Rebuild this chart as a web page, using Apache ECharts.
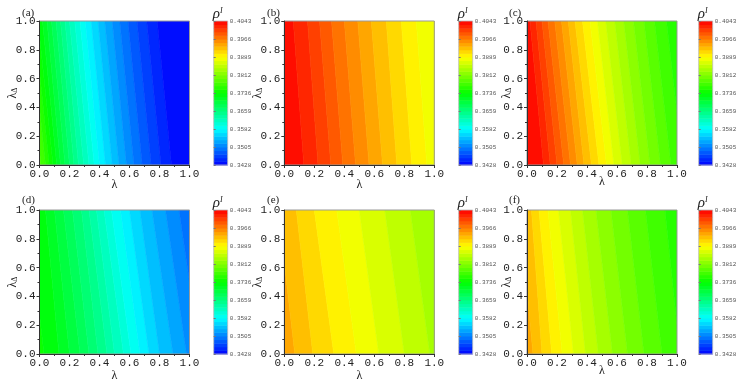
<!DOCTYPE html>
<html><head><meta charset="utf-8">
<script src="https://cdn.jsdelivr.net/npm/echarts@6/dist/echarts.min.js"></script>
<style>html,body{margin:0;padding:0;background:#fff}#c{width:744px;height:387px}</style>
</head><body><div id="c"></div>
<script>
// ---------------- data ----------------
const xTickLabels = ['0.0', '0.2', '0.4', '0.6', '0.8', '1.0'];
const yTickLabels = ['0.0', '0.2', '0.4', '0.6', '0.8', '1.0'];
const cbTickLabels = ['0.3428', '0.3505', '0.3582', '0.3659', '0.3736', '0.3812', '0.3889', '0.3966', '0.4043'];
const levelCount = 40;            // contour levels between 0.3428 and 0.4043
const panelLabels = ['(a)', '(b)', '(c)', '(d)', '(e)', '(f)'];

// contour lines: level index, λ position at λΔ=0 (bottom) and at λΔ=1 (top)
const levelsA = [23, 22, 21, 20, 19, 18, 17, 16, 15, 14, 13, 12, 11, 10, 9, 8, 7, 6, 5, 4, 3, 2, 1];
const bottomA = [0.01, 0.04, 0.065, 0.09, 0.115, 0.14, 0.17, 0.20, 0.23, 0.26, 0.295, 0.33, 0.365, 0.40, 0.44, 0.485, 0.53, 0.58, 0.63, 0.685, 0.745, 0.81, 0.88];
const topA = [-0.09, -0.06, -0.035, -0.01, 0.02, 0.05, 0.08, 0.11, 0.14, 0.17, 0.20, 0.235, 0.27, 0.305, 0.345, 0.39, 0.435, 0.485, 0.535, 0.59, 0.65, 0.715, 0.785];

const levelsB = [39, 38, 37, 36, 35, 34, 33, 32, 31, 30];
const bottomB = [0.13, 0.225, 0.31, 0.39, 0.475, 0.565, 0.655, 0.75, 0.85, 0.95];
const topB = [0.06, 0.155, 0.235, 0.315, 0.40, 0.49, 0.58, 0.68, 0.78, 0.88];

const levelsC = [39, 38, 37, 36, 35, 34, 33, 32, 31, 30, 29, 28, 27, 26, 25, 24, 23, 22];
const bottomC = [0.11, 0.155, 0.20, 0.245, 0.29, 0.335, 0.38, 0.43, 0.48, 0.53, 0.58, 0.635, 0.695, 0.755, 0.82, 0.89, 0.96, 1.04];
const topC = [0.02, 0.06, 0.10, 0.14, 0.185, 0.23, 0.275, 0.32, 0.37, 0.42, 0.47, 0.525, 0.585, 0.645, 0.71, 0.78, 0.85, 0.93];

const levelsD = [20, 19, 18, 17, 16, 15, 14, 13, 12, 11, 10, 9, 8, 7, 6, 5];
const bottomD = [0.03, 0.13, 0.20, 0.27, 0.33, 0.39, 0.45, 0.50, 0.56, 0.61, 0.67, 0.73, 0.80, 0.89, 0.98, 1.07];
const topD = [-0.08, 0.04, 0.10, 0.16, 0.22, 0.28, 0.33, 0.38, 0.43, 0.48, 0.54, 0.60, 0.67, 0.75, 0.84, 0.93];

const levelsE = [33, 32, 31, 30, 29, 28, 27];
const bottomE = [0.07, 0.19, 0.33, 0.48, 0.63, 0.80, 0.97];
const topE = [-0.04, 0.08, 0.20, 0.35, 0.50, 0.67, 0.84];

const levelsF = [33, 32, 31, 30, 29, 28, 27, 26, 25, 24, 23, 22];
const bottomF = [0.04, 0.10, 0.165, 0.235, 0.31, 0.39, 0.475, 0.57, 0.67, 0.78, 0.90, 1.02];
const topF = [-0.05, 0.03, 0.08, 0.14, 0.21, 0.29, 0.37, 0.46, 0.56, 0.67, 0.79, 0.92];

const panelData = [
  [levelsA, bottomA, topA], [levelsB, bottomB, topB], [levelsC, bottomC, topC],
  [levelsD, bottomD, topD], [levelsE, bottomE, topE], [levelsF, bottomF, topF]
];

// ---------------- style ----------------
const colLeft = [39.5, 284.3, 527];
const cbLeft = [213.7, 458.7, 698.7];
const rowTop = [21, 210];
const plotW = 150, plotH = 144, cbW = 14;
const yNameGap = [21, 20, 14];
const xNameGap = [[14, 14, 11], [16, 16, 11]];
const labelX = [22, 267, 509];
const labelY = [13.5, 201];
const rainbowStops = [[0, [0, 0, 255]], [0.25, [0, 255, 255]], [0.5, [0, 255, 0]], [0.75, [255, 255, 0]], [1, [255, 0, 0]]];
const monoFont = 'Liberation Mono';
const serifFont = 'Liberation Serif';

function rainbow(t) {
  t = Math.max(0, Math.min(1, t));
  for (let i = 0; i < rainbowStops.length - 1; i++) {
    const [t0, c0] = rainbowStops[i], [t1, c1] = rainbowStops[i + 1];
    if (t <= t1) {
      const f = (t - t0) / (t1 - t0);
      const c = c0.map((v, j) => Math.round(v + (c1[j] - v) * f));
      return 'rgb(' + c.join(',') + ')';
    }
  }
  return 'rgb(255,0,0)';
}

function bandsFrom(levels, bottom, top) {
  const out = [];
  const n = levels.length;
  out.push([-1, bottom[0], -1, top[0], levels[0]]);
  for (let i = 0; i < n - 1; i++) out.push([bottom[i], bottom[i + 1], top[i], top[i + 1], levels[i + 1]]);
  out.push([bottom[n - 1], 2, top[n - 1], 2, levels[n - 1] - 1]);
  return out;
}

const grids = [], xAxes = [], yAxes = [], series = [], graphics = [];
const tickStyle = { fontFamily: monoFont, fontSize: 11, color: '#222' };

for (let p = 0; p < 6; p++) {
  const row = Math.floor(p / 3), col = p % 3;
  const gi = grids.length;
  grids.push({ left: colLeft[col], top: rowTop[row], width: plotW, height: plotH, show: true,
    borderColor: '#999', borderWidth: 1, backgroundColor: 'transparent', z: 4, outerBoundsMode: 'none' });
  const xi = xAxes.length;
  xAxes.push({
    gridIndex: gi, type: 'value', min: 0, max: 1, interval: 0.2, z: 5,
    name: 'λ', nameLocation: 'middle', nameGap: xNameGap[row][col], nameMoveOverlap: false,
    nameTextStyle: { fontFamily: serifFont, fontSize: 12, color: '#222' },
    axisLine: { lineStyle: { color: '#333', width: 1 } },
    axisTick: { inside: false, length: 3, lineStyle: { color: '#333' } },
    minorTick: { show: true, splitNumber: 2, length: 2, lineStyle: { color: '#333' } },
    splitLine: { show: false },
    axisLabel: Object.assign({ margin: 4, showMinLabel: true, showMaxLabel: true,
      formatter: (v) => xTickLabels[Math.round(v / 0.2)] }, tickStyle)
  });
  const yi = yAxes.length;
  yAxes.push({
    gridIndex: gi, type: 'value', min: 0, max: 1, interval: 0.2, z: 5,
    name: '{l|λ}{s|Δ}', nameLocation: 'middle', nameGap: yNameGap[col], nameRotate: 90, nameMoveOverlap: false,
    nameTextStyle: { rich: {
      l: { fontFamily: serifFont, fontSize: 12, color: '#222' },
      s: { fontFamily: serifFont, fontSize: 8, color: '#222', verticalAlign: 'bottom' } } },
    axisLine: { lineStyle: { color: '#333', width: 1 } },
    axisTick: { inside: false, length: 3, lineStyle: { color: '#333' } },
    minorTick: { show: true, splitNumber: 2, length: 2, lineStyle: { color: '#333' } },
    splitLine: { show: false },
    axisLabel: Object.assign({ margin: 4, showMinLabel: true, showMaxLabel: true,
      formatter: (v) => yTickLabels[Math.round(v / 0.2)] }, tickStyle)
  });
  const [lv, bt, tp] = panelData[p];
  series.push({
    type: 'custom', xAxisIndex: xi, yAxisIndex: yi, clip: true, z: 1, silent: true,
    data: bandsFrom(lv, bt, tp),
    encode: { x: [0, 1], y: 4 },
    renderItem: function (params, api) {
      const bl = api.value(0), br = api.value(1), tl = api.value(2), tr = api.value(3), b = api.value(4);
      const pts = [api.coord([bl, 0]), api.coord([br, 0]), api.coord([tr, 1]), api.coord([tl, 1])];
      const c = rainbow((b + 0.5) / levelCount);
      return { type: 'polygon', shape: { points: pts }, style: { fill: c, stroke: c, lineWidth: 0.6 } };
    }
  });

  const ci = grids.length;
  grids.push({ left: cbLeft[col], top: rowTop[row], width: cbW, height: plotH, show: true,
    borderColor: '#bbb', borderWidth: 0.8, backgroundColor: 'transparent', z: 4, outerBoundsMode: 'none' });
  const cxi = xAxes.length;
  xAxes.push({ gridIndex: ci, type: 'value', min: 0, max: 1, show: false });
  const cyi = yAxes.length;
  yAxes.push({
    gridIndex: ci, type: 'value', min: 0, max: levelCount, interval: 5, position: 'right', z: 5,
    axisLine: { show: false },
    axisTick: { show: true, inside: false, length: 2, lineStyle: { color: '#777' } },
    splitLine: { show: false },
    axisLabel: { margin: 2, fontFamily: monoFont, fontSize: 6, color: '#555', showMinLabel: true, showMaxLabel: true,
      formatter: (v) => cbTickLabels[Math.round(v / 5)] }
  });
  const cbData = [];
  for (let k = 0; k < levelCount; k++) cbData.push([0, k]);
  series.push({
    type: 'custom', xAxisIndex: cxi, yAxisIndex: cyi, z: 1, silent: true,
    data: cbData, encode: { x: 0, y: 1 },
    renderItem: function (params, api) {
      const k = api.value(1);
      const p0 = api.coord([0, k + 1]), p1 = api.coord([1, k]);
      const c = rainbow((k + 0.5) / levelCount);
      return { type: 'rect', shape: { x: p0[0], y: p0[1], width: p1[0] - p0[0], height: p1[1] - p0[1] + 0.5 },
        style: { fill: c } };
    }
  });

  graphics.push({ type: 'text', left: labelX[col], top: labelY[row] - 6,
    style: { text: panelLabels[p], font: '11px "' + serifFont + '"', fill: '#222' } });
  graphics.push({ type: 'text', left: cbLeft[col] - 1, top: rowTop[row] - 14,
    style: { text: '{r|ρ}{s|I}', rich: {
      r: { fontFamily: serifFont, fontStyle: 'italic', fontSize: 15, fill: '#222' },
      s: { fontFamily: serifFont, fontStyle: 'italic', fontSize: 8, fill: '#222', verticalAlign: 'top' } } } });
}

const chart = echarts.init(document.getElementById('c'), null, { renderer: 'canvas' });
chart.setOption({
  animation: false,
  backgroundColor: '#fff',
  grid: grids, xAxis: xAxes, yAxis: yAxes, series: series, graphic: graphics
});
</script></body></html>
